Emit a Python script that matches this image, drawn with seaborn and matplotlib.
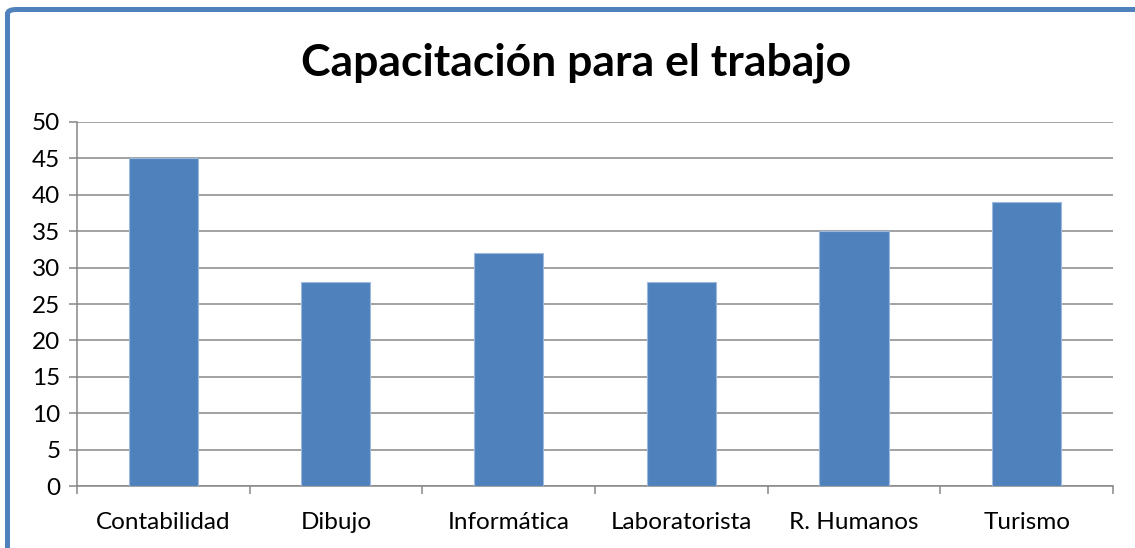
import numpy as np
import pandas as pd
import matplotlib
matplotlib.use('Agg')
import matplotlib.pyplot as plt
import seaborn as sns
from matplotlib.patches import FancyBboxPatch

## data
categorias = ['Contabilidad', 'Dibujo', 'Informática', 'Laboratorista', 'R. Humanos', 'Turismo']
valores = [45, 28, 32, 28, 35, 39]
titulo = 'Capacitación para el trabajo'

df = pd.DataFrame({'categoria': categorias, 'valor': valores})

## config
sns.set_theme(style='white')
plt.rcParams['font.family'] = ['Lato', 'DejaVu Sans']

BLUE = '#4F81BD'
GRID = '#878787'

fig = plt.figure(figsize=(11.35, 5.48), dpi=100)
ax = fig.add_axes([0.0678, 0.1131, 0.9128, 0.6643])

sns.barplot(data=df, x='categoria', y='valor', color=BLUE, saturation=1,
            width=0.4, edgecolor='#9DB9DD', linewidth=0.8, ax=ax, zorder=3)

ax.set_ylim(0, 50)
ax.set_xlim(-0.5, len(categorias) - 0.5)
ax.set_yticks(np.arange(0, 51, 5))
ax.yaxis.grid(True, color=GRID, linewidth=1.1, zorder=0)
ax.set_axisbelow(True)
ax.set_xlabel('')
ax.set_ylabel('')

for s in ['top', 'right']:
    ax.spines[s].set_visible(False)
for s in ['left', 'bottom']:
    ax.spines[s].set_color(GRID)
    ax.spines[s].set_linewidth(1.1)

# tick marks between categories, like excel
ax.set_xticks(np.arange(-0.5, len(categorias), 1), minor=True)
ax.tick_params(axis='x', which='minor', length=6, width=1.1, color=GRID, direction='out', bottom=True)
ax.tick_params(axis='x', which='major', length=0, labelsize=17.5, pad=19, colors='black')
ax.tick_params(axis='y', length=6, width=1.1, color=GRID, direction='out', left=True,
               labelsize=17.5, pad=6, colors='black')

fig.text(0.5075, 0.886, titulo, ha='center', va='center', fontsize=32,
         fontweight='bold', color='black')

# blue frame of the chart area
frame = FancyBboxPatch((7.5 / 1135, -0.2), 1.2, 1.2 - 9.5 / 548,
                       boxstyle='round,pad=0,rounding_size=0.008',
                       transform=fig.transFigure, fill=False,
                       edgecolor=BLUE, linewidth=3.6, clip_on=False)
fig.patches.append(frame)

fig.savefig('out.png', dpi=100)
